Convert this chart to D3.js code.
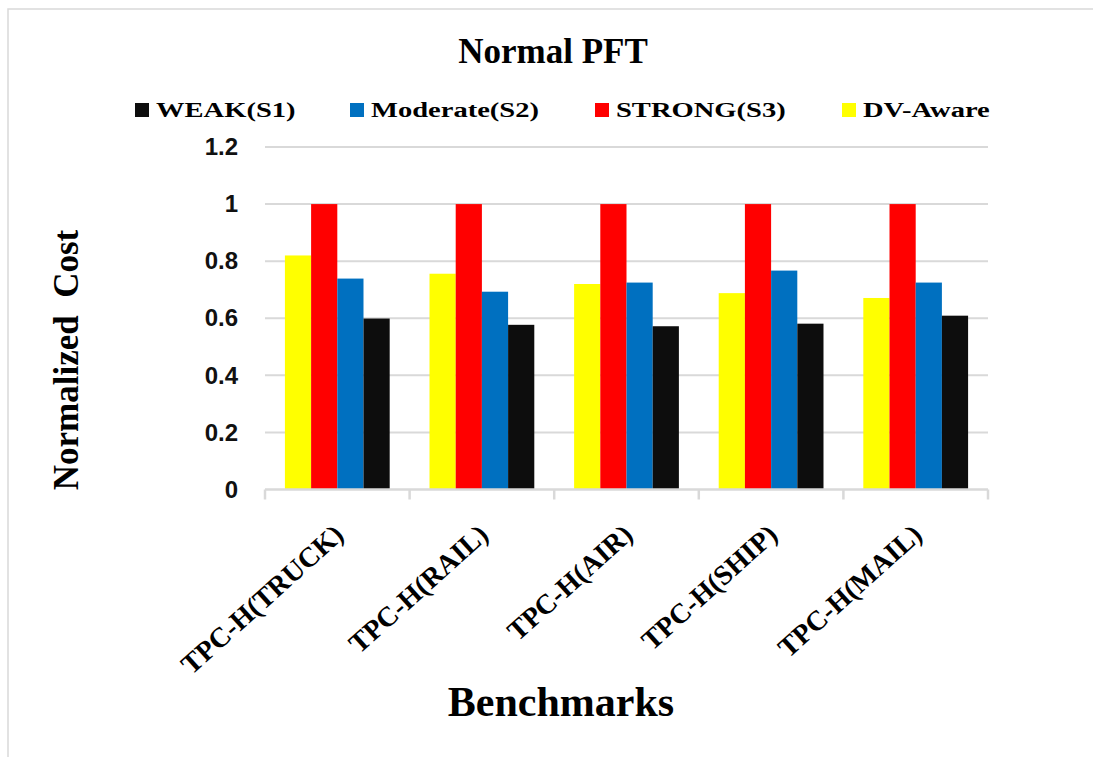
<!DOCTYPE html>
<html>
<head>
<meta charset="utf-8">
<script src="https://cdn.jsdelivr.net/npm/d3@7"></script>
<style>
  body { margin: 0; background: #fff; }
  svg { display: block; }
</style>
</head>
<body>
<svg id="viz"></svg>
<script>
const width = 1093;
const height = 757;

// chart data
const benchmarks = ['TPC-H(TRUCK)', 'TPC-H(RAIL)', 'TPC-H(AIR)', 'TPC-H(SHIP)', 'TPC-H(MAIL)'];
const seriesNames = ['DV-Aware', 'STRONG(S3)', 'Moderate(S2)', 'WEAK(S1)'];
const dvAware = [0.82, 0.756, 0.72, 0.688, 0.671];
const strong = [1, 1, 1, 1, 1];
const moderate = [0.739, 0.693, 0.725, 0.767, 0.725];
const weak = [0.599, 0.577, 0.572, 0.581, 0.609];
const legendOrder = ['WEAK(S1)', 'Moderate(S2)', 'STRONG(S3)', 'DV-Aware'];
const yTicks = [0, 0.2, 0.4, 0.6, 0.8, 1, 1.2];

const values = {
    'DV-Aware': dvAware,
    'STRONG(S3)': strong,
    'Moderate(S2)': moderate,
    'WEAK(S1)': weak
};
const color = d3.scaleOrdinal()
    .domain(seriesNames)
    .range(['#ffff00', '#ff0000', '#0070c0', '#0d0d0d']);

const rows = benchmarks.map(function (b, i) {
    return { name: b, bars: seriesNames.map(function (s) { return { key: s, value: values[s][i] }; }) };
});

const svg = d3.select('#viz').attr('width', width).attr('height', height);

// chart area outline (only top & left visible in the picture)
svg.append('path')
    .attr('d', 'M8,' + height + 'V9H' + width)
    .attr('fill', 'none')
    .attr('stroke', '#d9d9d9')
    .attr('stroke-width', 1.5);

const x0 = d3.scaleBand().domain(benchmarks).range([265, 988]).padding(0);
const x1 = d3.scaleBand().domain(seriesNames).range([0, x0.bandwidth()]).paddingInner(0).paddingOuter(0.76);
const y = d3.scaleLinear().domain([0, 1.2]).range([489.5, 147]);

// gridlines
svg.append('g')
    .selectAll('line')
    .data(yTicks.filter(function (d) { return d > 0; }))
    .enter()
    .append('line')
    .attr('x1', 265)
    .attr('x2', 988)
    .attr('y1', function (d) { return y(d); })
    .attr('y2', function (d) { return y(d); })
    .attr('stroke', '#d9d9d9')
    .attr('stroke-width', 2);

// y axis labels
const yAxis = svg.append('g')
    .attr('transform', 'translate(265,0)')
    .call(d3.axisLeft(y).tickValues(yTicks).tickSize(0).tickPadding(27).tickFormat(d3.format('')));
yAxis.select('.domain').remove();
yAxis.selectAll('text')
    .attr('font-family', '"Liberation Sans", Arial, sans-serif')
    .attr('font-weight', 'bold')
    .attr('font-size', 24)
    .attr('fill', '#111');

// bars
const groups = svg.append('g')
    .selectAll('g')
    .data(rows)
    .enter()
    .append('g')
    .attr('transform', function (d) { return 'translate(' + x0(d.name) + ',0)'; });

groups.selectAll('rect')
    .data(function (d) { return d.bars; })
    .enter()
    .append('rect')
    .attr('x', function (d) { return x1(d.key); })
    .attr('width', x1.bandwidth())
    .attr('y', function (d) { return y(d.value); })
    .attr('height', function (d) { return y(0) - y(d.value); })
    .attr('fill', function (d) { return color(d.key); });

// x axis line with tick marks between groups
const xAxis = svg.append('g');
xAxis.append('line')
    .attr('x1', 265).attr('x2', 988)
    .attr('y1', y(0)).attr('y2', y(0))
    .attr('stroke', '#d9d9d9')
    .attr('stroke-width', 2.5);
xAxis.selectAll('.tick')
    .data(benchmarks.concat(['end']))
    .enter()
    .append('line')
    .attr('x1', function (d, i) { return i < benchmarks.length ? x0(d) : x0.range()[1]; })
    .attr('x2', function (d, i) { return i < benchmarks.length ? x0(d) : x0.range()[1]; })
    .attr('y1', y(0))
    .attr('y2', y(0) + 10)
    .attr('stroke', '#d9d9d9')
    .attr('stroke-width', 2.5);

// category labels, rotated
svg.append('g')
    .selectAll('text')
    .data(benchmarks)
    .enter()
    .append('text')
    .attr('transform', function (d) {
        return 'translate(' + (x0(d) + x0.bandwidth() / 2 + 8) + ',537) rotate(-42)';
    })
    .attr('text-anchor', 'end')
    .attr('font-family', '"Liberation Serif", "Times New Roman", serif')
    .attr('font-weight', 'bold')
    .attr('font-size', 28)
    .attr('fill', '#000')
    .text(function (d) { return d; });

// title
svg.append('text')
    .attr('x', 553)
    .attr('y', 63)
    .attr('text-anchor', 'middle')
    .attr('font-family', '"Liberation Serif", "Times New Roman", serif')
    .attr('font-weight', 'bold')
    .attr('font-size', 35)
    .text('Normal PFT');

// legend
const legendX = [135, 350, 595, 842];
const legend = svg.append('g')
    .selectAll('g')
    .data(legendOrder)
    .enter()
    .append('g')
    .attr('transform', function (d, i) { return 'translate(' + legendX[i] + ',103)'; });
legend.append('rect')
    .attr('width', 14)
    .attr('height', 14)
    .attr('fill', function (d) { return color(d); });
legend.append('text')
    .attr('transform', 'translate(21,14) scale(1.36,1)')
    .attr('font-family', '"Liberation Serif", "Times New Roman", serif')
    .attr('font-weight', 'bold')
    .attr('font-size', 21)
    .text(function (d) { return d; });

// axis titles
svg.append('text')
    .attr('transform', 'translate(78,360) rotate(-90)')
    .attr('text-anchor', 'middle')
    .attr('font-family', '"Liberation Serif", "Times New Roman", serif')
    .attr('font-weight', 'bold')
    .attr('font-size', 35)
    .style('white-space', 'pre')
    .text('Normalized  Cost');

svg.append('text')
    .attr('x', 561)
    .attr('y', 716)
    .attr('text-anchor', 'middle')
    .attr('font-family', '"Liberation Serif", "Times New Roman", serif')
    .attr('font-weight', 'bold')
    .attr('font-size', 42)
    .text('Benchmarks');
</script>
</body>
</html>
